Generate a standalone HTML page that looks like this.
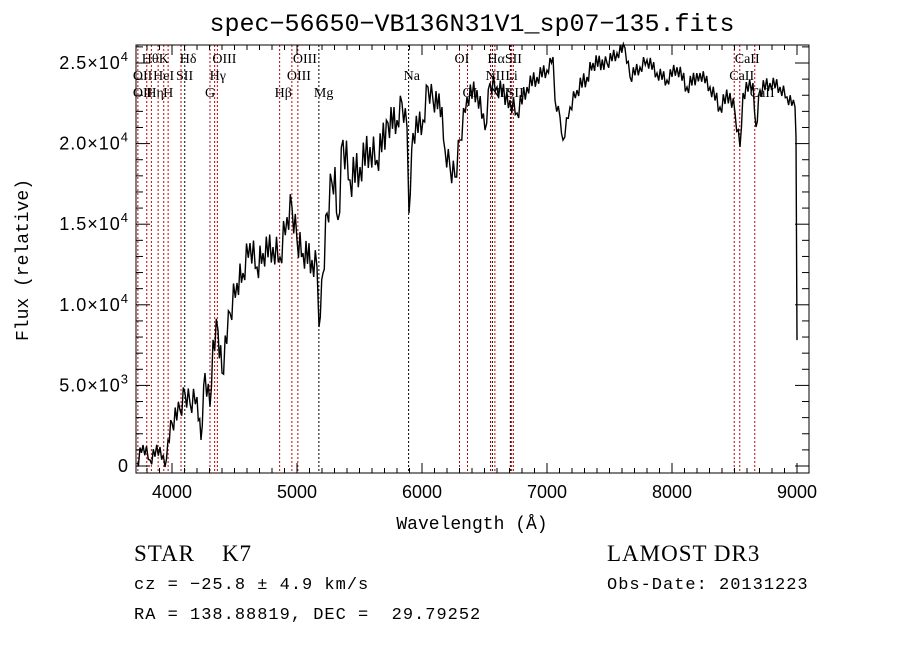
<!DOCTYPE html>
<html><head><meta charset="utf-8"><style>
body{margin:0;background:#fff;}
svg{display:block;font-family:"Liberation Sans",sans-serif;}
text{white-space:pre;}
</style></head><body>
<svg id="chart" width="900" height="649" viewBox="0 0 900 649" xmlns="http://www.w3.org/2000/svg" xml:space="preserve">
<rect width="900" height="649" fill="#fff"/>
<text x="472" y="31" font-size="25" text-anchor="middle" font-family="Liberation Mono, monospace">spec−56650−VB136N31V1_sp07−135.fits</text>
<g id="plot"></g>
<text x="472" y="529" font-size="18" text-anchor="middle" font-family="Liberation Mono, monospace">Wavelength (Å)</text>
<text transform="translate(28,260) rotate(-90)" font-size="18" text-anchor="middle" font-family="Liberation Mono, monospace">Flux (relative)</text>
<text x="134" y="561" font-size="23" font-family="Liberation Serif, serif" letter-spacing="1">STAR    K7</text>
<text x="134" y="589" font-size="17" letter-spacing="1" font-family="Liberation Mono, monospace">cz = −25.8 ± 4.9 km/s</text>
<text x="134" y="619" font-size="17" letter-spacing="1" font-family="Liberation Mono, monospace">RA = 138.88819, DEC =  29.79252</text>
<text x="607" y="561" font-size="23" letter-spacing="1" font-family="Liberation Serif, serif">LAMOST DR3</text>
<text x="607" y="589" font-size="17" letter-spacing="1" font-family="Liberation Mono, monospace">Obs-Date: 20131223</text>
</svg>
<script>
const wavelengths=[3720,3768,3824,3904,3944,3968,4000,4064,4104,4144,4200,4232,4264,4304,4328,4368,4400,4464,4520,4568,4624,4680,4728,4808,4864,4920,4960,5000,5048,5120,5160,5176,5208,5240,5280,5304,5328,5368,5424,5504,5584,5640,5728,5800,5840,5880,5896,5928,6008,6048,6088,6160,6184,6224,6264,6304,6360,6440,6504,6544,6600,6704,6760,6840,6920,7000,7048,7064,7104,7128,7184,7240,7320,7368,7480,7560,7624,7664,7744,7800,7880,7960,8040,8120,8224,8304,8384,8464,8504,8544,8568,8648,8672,8704,8784,8864,8920,8984,8992,9000];
const fluxes=[186,1300,370,1180,-60,1610,2670,3470,4530,3900,4280,1610,5770,3660,7820,8440,5770,9490,11350,11970,13830,12340,13210,13580,12960,15440,16070,14020,13210,12780,12340,8620,11970,15690,17550,18550,15260,20230,17740,18550,19790,18980,21280,21460,22520,21030,15690,20660,21460,23510,22700,22270,19600,18550,17930,20230,22890,23320,20840,23760,23510,22700,21900,23510,24130,24560,25370,22700,21650,20220,22270,23320,24130,25000,25000,25620,25930,24130,24740,25190,24380,23940,24740,23510,24380,23510,22270,23140,21900,19790,23140,23760,21030,23320,23760,23510,22890,22270,20410,7810];
const fluxNoise=[400,400,400,400,300,400,600,700,700,700,700,300,800,700,900,900,800,900,900,900,900,900,900,900,1000,1000,1000,900,900,900,900,300,900,1200,1200,1200,1200,1200,1200,1100,1100,1000,1000,800,800,600,300,800,800,800,700,700,700,800,800,700,600,700,500,600,600,600,600,500,500,400,300,400,300,300,400,500,500,500,400,400,300,400,400,400,400,400,400,500,400,400,500,500,500,300,500,400,400,500,400,400,400,300,200,0];
const xTicks=[4000,5000,6000,7000,8000,9000];
const yTickMant=["0","5.0","1.0","1.5","2.0","2.5"];
const yTickExp=["","3","4","4","4","4"];
const yTickVals=[0,5000,10000,15000,20000,25000];
const lineWaves=[3727,3798,3835,3889,3934,3969,4072,4102,4304,4341,4363,4861,4959,5007,5175,5893,6300,6364,6548,6563,6583,6707,6717,6731,8498,8542,8662];
const lineBlack=[0,0,0,0,0,0,0,1,0,0,0,0,0,0,1,1,0,0,0,1,0,1,0,0,0,0,0];
const labelText=["Hθ","K","Hδ","OIII","OIII","OI","HαSII","CaII","OII","HeI","SII","Hγ","OIII","Na","NII","Li","CaII","OII","Hη","H","G","Hβ","Mg","OI","NII","SII","CaII"];
const labelWave=[3798,3934,4102,4363,5007,6300,6563,8542,3727,3889,4072,4341,4959,5893,6548,6707,8498,3727,3835,3969,4304,4861,5175,6364,6583,6717,8662];
const labelRow=[0,0,0,0,0,0,0,0,1,1,1,1,1,1,1,1,1,2,2,2,2,2,2,2,2,2,2];

const X0=136,X1=809,Y0=45,Y1=473;
const xs=w=>134.5+(w-3700)*0.125;
const ys=f=>466-f*0.01612;
const NS="http://www.w3.org/2000/svg";
const g=document.getElementById('plot');
function mk(t,a){const e=document.createElementNS(NS,t);for(const k in a)e.setAttribute(k,a[k]);g.appendChild(e);return e;}

lineWaves.forEach((w,i)=>{
 const e=mk('line',{x1:xs(w),x2:xs(w),y1:Y0,y2:Y1,stroke:lineBlack[i]?'#000':'#c00000','stroke-width':1,'stroke-dasharray':'2,2'});
 
 
});
labelText.forEach((t,i)=>{
 const e=mk('text',{x:xs(labelWave[i])-5,y:63+labelRow[i]*17,'font-size':14,'font-family':'Liberation Serif, serif'});
 e.textContent=t;
 
 
});

// spectrum: jagged trace through each point using per-point noise amplitude
let pts=[];
for(let i=0;i<wavelengths.length;i++){
 const x=xs(wavelengths[i]),y=ys(fluxes[i]);
 pts.push([x,y]);
 if(i<wavelengths.length-1){
  const x2=xs(wavelengths[i+1]),y2=ys(fluxes[i+1]);
  const n=Math.max(1,Math.round((x2-x)/1.6));
  for(let k=1;k<n;k++){
   const t=k/n;
   const e=(fluxNoise[i]*(1-t)+fluxNoise[i+1]*t)*0.01612*(k%2?1:-1)*(k%3===0?0.5:1);
   pts.push([x+(x2-x)*t,y+(y2-y)*t+e]);
  }
 }
}
const sp=mk('polyline',{points:pts.map(p=>p[0].toFixed(1)+','+p[1].toFixed(1)).join(' '),fill:'none',stroke:'#000','stroke-width':1.4});



const fr=mk('rect',{x:X0,y:Y0,width:X1-X0,height:Y1-Y0,fill:'none',stroke:'#000','stroke-width':1});



for(let w=3800;w<=9000;w+=100){
 const major=w%1000===0,L=major?10:5,x=xs(w);
 mk('line',{x1:x,x2:x,y1:Y1,y2:Y1-L,stroke:'#000'});
 mk('line',{x1:x,x2:x,y1:Y0,y2:Y0+L,stroke:'#000'});
}
xTicks.forEach(w=>{
 const e=mk('text',{x:xs(w),y:498,'font-size':18,'text-anchor':'middle'});
 e.textContent=w;
 
 
});
for(let f=0;f<=26000;f+=1000){
 const major=f%5000===0,L=major?14:7,y=ys(f);
 mk('line',{x1:X0,x2:X0+L,y1:y,y2:y,stroke:'#000'});
 mk('line',{x1:X1,x2:X1-L,y1:y,y2:y,stroke:'#000'});
}
yTickVals.forEach((f,i)=>{
 const e=mk('text',{x:129,y:ys(f)+6,'font-size':18,'text-anchor':'end','letter-spacing':1});
 if(yTickExp[i]){
  e.innerHTML=yTickMant[i]+'×10<tspan dy="-8" font-size="13">'+yTickExp[i]+'</tspan>';
 } else e.textContent=yTickMant[i];
 
 
});
</script>
</body></html>
